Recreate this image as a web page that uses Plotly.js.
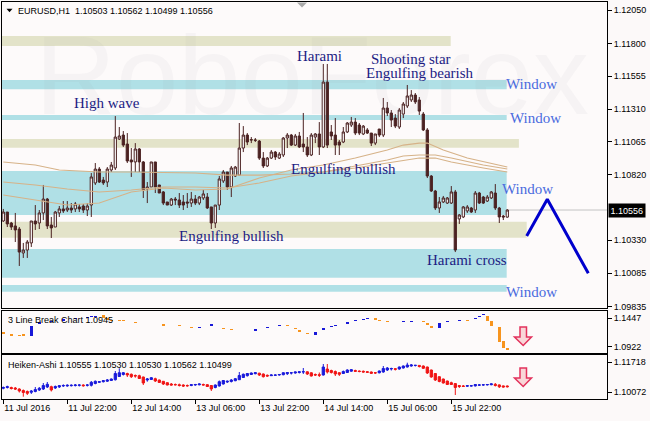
<!DOCTYPE html>
<html><head><meta charset="utf-8">
<script src="https://cdn.plot.ly/plotly-3.0.1.min.js"></script>
<style>html,body{margin:0;padding:0;background:#fcf9f9;}#chart{width:650px;height:421px;}</style>
</head><body><div id="chart"></div>
<script>
// ---------- DATA ----------
const candleOpen = [1.10474,1.10541,1.10459,1.10437,1.10414,1.10235,1.10257,1.10310,1.10474,1.10459,
1.10534,1.10638,1.10444,1.10429,1.10534,1.10564,1.10556,1.10571,1.10564,1.10579,
1.10586,1.10556,1.10593,1.10758,1.10862,1.10780,1.10765,1.10855,1.10870,1.11086,
1.11116,1.11049,1.10930,1.10915,1.11012,1.10915,1.10713,1.10728,1.10915,1.10743,
1.10691,1.10616,1.10593,1.10638,1.10631,1.10616,1.10616,1.10608,1.10638,1.10608,
1.10646,1.10653,1.10579,1.10459,1.10593,1.10773,1.10840,1.10728,1.10810,1.10817,
1.11019,1.11116,1.11079,1.11079,1.11071,1.10944,1.10885,1.10944,1.10989,1.10944,
1.10967,1.11094,1.11116,1.11041,1.11109,1.11049,1.11027,1.10967,1.11101,1.11124,
1.11027,1.11512,1.11139,1.11116,1.11064,1.11064,1.11139,1.11191,1.11213,1.11191,
1.11124,1.11154,1.11131,1.11056,1.11161,1.11116,1.11318,1.11281,1.11243,1.11176,
1.11273,1.11333,1.11378,1.11415,1.11378,1.11273,1.11154,1.10810,1.10698,1.10571,
1.10616,1.10608,1.10608,1.10691,1.10489,1.10504,1.10549,1.10571,1.10556,1.10683,
1.10653,1.10623,1.10646,1.10683,1.10571,1.10511,1.10503];
const candleHigh = [1.10564,1.10541,1.10467,1.10534,1.10429,1.10310,1.10332,1.10474,1.10593,1.10556,
1.10743,1.10646,1.10504,1.10549,1.10586,1.10623,1.10623,1.10608,1.10616,1.10601,
1.10601,1.10608,1.10832,1.10907,1.10877,1.10803,1.10877,1.10915,1.11258,1.11176,
1.11146,1.11131,1.11019,1.11056,1.11019,1.10922,1.10765,1.10915,1.10915,1.10743,
1.10698,1.10616,1.10646,1.10653,1.10683,1.10668,1.10683,1.10691,1.10668,1.10661,
1.10706,1.10683,1.10579,1.10593,1.10810,1.10855,1.10840,1.10885,1.10885,1.11206,
1.11183,1.11131,1.11101,1.11094,1.11079,1.10989,1.10952,1.11004,1.10997,1.10989,
1.11101,1.11131,1.11124,1.11124,1.11139,1.11281,1.11101,1.11131,1.11131,1.11213,
1.11647,1.11647,1.11191,1.11243,1.11079,1.11176,1.11213,1.11251,1.11243,1.11206,
1.11191,1.11168,1.11131,1.11124,1.11161,1.11393,1.11363,1.11303,1.11273,1.11318,
1.11363,1.11490,1.11452,1.11430,1.11400,1.11288,1.11168,1.10817,1.10706,1.10653,
1.10661,1.10653,1.10735,1.10706,1.10526,1.10586,1.10593,1.10579,1.10698,1.10691,
1.10661,1.10668,1.10698,1.10750,1.10579,1.10519,1.10562];
const candleLow = [1.10467,1.10429,1.10407,1.10317,1.10138,1.10198,1.10198,1.10280,1.10407,1.10414,
1.10481,1.10414,1.10347,1.10429,1.10504,1.10534,1.10541,1.10534,1.10541,1.10541,
1.10534,1.10511,1.10504,1.10743,1.10758,1.10743,1.10728,1.10840,1.10855,1.11079,
1.11027,1.10907,1.10803,1.10840,1.10840,1.10646,1.10608,1.10728,1.10683,1.10683,
1.10593,1.10593,1.10586,1.10593,1.10571,1.10556,1.10571,1.10579,1.10593,1.10593,
1.10631,1.10564,1.10414,1.10422,1.10556,1.10758,1.10706,1.10653,1.10803,1.10817,
1.10989,1.11041,1.11056,1.11064,1.10930,1.10870,1.10877,1.10937,1.10930,1.10937,
1.10952,1.11019,1.11034,1.11034,1.11019,1.10989,1.10952,1.10959,1.11056,1.10967,
1.11019,1.11019,1.11079,1.10967,1.10967,1.11056,1.11131,1.11176,1.11116,1.11116,
1.11116,1.11124,1.11034,1.11041,1.11101,1.11101,1.11258,1.11176,1.11168,1.11161,
1.11243,1.11318,1.11363,1.11348,1.11266,1.11146,1.10795,1.10691,1.10556,1.10534,
1.10608,1.10601,1.10601,1.10242,1.10452,1.10496,1.10534,1.10534,1.10534,1.10601,
1.10601,1.10616,1.10638,1.10556,1.10459,1.10481,1.10499];
const candleClose = [1.10541,1.10452,1.10429,1.10407,1.10242,1.10257,1.10317,1.10474,1.10452,1.10534,
1.10638,1.10437,1.10422,1.10541,1.10564,1.10549,1.10571,1.10556,1.10601,1.10564,
1.10556,1.10586,1.10803,1.10862,1.10765,1.10758,1.10862,1.10892,1.11101,1.11109,
1.11041,1.10922,1.10915,1.11012,1.10915,1.10706,1.10728,1.10915,1.10728,1.10683,
1.10608,1.10593,1.10638,1.10631,1.10593,1.10593,1.10608,1.10638,1.10608,1.10653,
1.10676,1.10571,1.10459,1.10593,1.10788,1.10840,1.10728,1.10870,1.10877,1.11019,
1.11116,1.11064,1.11081,1.11077,1.10944,1.10885,1.10944,1.10989,1.10952,1.10974,
1.11094,1.11116,1.11041,1.11109,1.11027,1.11027,1.10967,1.11116,1.11124,1.11027,
1.11512,1.11041,1.11109,1.11041,1.11041,1.11139,1.11206,1.11213,1.11131,1.11131,
1.11183,1.11131,1.11056,1.11124,1.11116,1.11318,1.11281,1.11228,1.11183,1.11303,
1.11348,1.11408,1.11415,1.11363,1.11295,1.11154,1.10810,1.10698,1.10571,1.10616,
1.10646,1.10646,1.10691,1.10257,1.10519,1.10579,1.10579,1.10541,1.10683,1.10608,
1.10608,1.10653,1.10691,1.10571,1.10504,1.10504,1.10556];

// moving averages (read at selected bars)
const maFastIdx = [0,8,16,24,32,40,48,56,64,72,80,88,96,100,104,106,110,116,120,126];
const maFast = [1.10668,1.10631,1.10593,1.10608,1.10691,1.10720,1.10706,1.10713,1.10795,1.10855,1.10892,1.10944,1.11004,1.11041,1.11056,1.11056,1.11004,1.10944,1.10915,1.10877];
const maMidIdx = [0,8,16,24,32,40,48,56,64,72,80,88,96,100,104,108,112,120,126];
const maMid = [1.10765,1.10743,1.10713,1.10691,1.10706,1.10728,1.10728,1.10720,1.10758,1.10810,1.10840,1.10885,1.10930,1.10959,1.10967,1.10967,1.10944,1.10892,1.10862];
const maSlowIdx = [0,8,14,24,32,40,48,56,64,72,80,88,96,100,104,108,112,120,126];
const maSlow = [1.10915,1.10892,1.10855,1.10840,1.10840,1.10836,1.10832,1.10817,1.10817,1.10825,1.10840,1.10870,1.10907,1.10930,1.10944,1.10944,1.10915,1.10870,1.10840];

// forecast zigzag
const forecastIdx = [130.85, 136, 146.25];
const forecastPrice = [1.10362, 1.10636, 1.10083];

// support / resistance zones
const zoneLow  = [1.11781,1.11458,1.11228,1.11021,1.10519,1.10349,1.10050,1.09946];
const zoneHigh = [1.11856,1.11527,1.11266,1.11086,1.10847,1.10469,1.10265,1.09996];
const zoneEnd  = [111.85,125.85,125.85,128.9,125.85,130.85,125.85,125.85];
const zoneKind = ['beige','cyan','cyan','beige','cyan','beige','cyan','cyan'];

const lastPrice = 1.10556;
const mainTicks = [1.12050,1.11800,1.11555,1.11310,1.11065,1.10820,1.10330,1.10085,1.09835];
const tickIdx = [0,16,32,48,64,80,96,112];
const tickText = ['11 Jul 2016','11 Jul 22:00','12 Jul 14:00','13 Jul 06:00','13 Jul 22:00','14 Jul 14:00','15 Jul 06:00','15 Jul 22:00'];

// 3 Line Break panel
const lbIdx = [0,2,4,5,7,9,12,15,18,21,22,23,25,26,27,29,30,33,40,44,47,49,52,55,57,63,66,69,71,73,74,76,78,80,82,83,86,88,90,91,93,94,96,98,100,102,105,106,107,109,111,114,116,118,119,120,121,122,124,125,126];
const lbLow = [1.11623,1.11253,1.11198,1.11253,1.11253,1.13416,1.13786,1.14063,1.14341,1.14525,1.14710,1.14766,1.14470,1.14156,1.13971,1.13971,1.13971,1.13656,1.13102,1.12991,1.12732,1.12732,1.13102,1.12492,1.12251,1.12177,1.12621,1.12991,1.12991,1.12492,1.11881,1.11512,1.11383,1.12307,1.12806,1.13047,1.13361,1.13971,1.14156,1.14285,1.14211,1.13971,1.13841,1.13730,1.13786,1.13841,1.13730,1.13231,1.12732,1.12732,1.13730,1.13971,1.13971,1.14341,1.14710,1.15025,1.13971,1.13102,1.10143,1.09034,1.08609];
const lbHigh = [1.11881,1.11512,1.11383,1.11512,1.13102,1.13786,1.14063,1.14341,1.14525,1.14710,1.14895,1.14951,1.15080,1.14470,1.14248,1.14156,1.14156,1.13841,1.13361,1.13231,1.12917,1.12917,1.13416,1.12732,1.12492,1.12492,1.12917,1.13231,1.13231,1.12732,1.12307,1.11697,1.11992,1.12621,1.13047,1.13231,1.13730,1.14156,1.14341,1.14470,1.14470,1.14156,1.14026,1.13841,1.13971,1.14026,1.13971,1.13545,1.13102,1.13545,1.13971,1.14156,1.14211,1.14581,1.14951,1.15265,1.14895,1.13971,1.12917,1.10273,1.09034];
const lbDir = [-1,-1,-1,-1,1,1,1,1,1,1,1,1,-1,-1,-1,-1,-1,-1,-1,-1,-1,1,1,-1,-1,1,1,1,-1,-1,-1,-1,1,1,1,1,1,1,1,1,-1,-1,-1,-1,1,1,-1,-1,-1,1,1,1,-1,1,1,1,-1,-1,-1,-1,-1];
const lbTicks = [1.1447, 1.0922];

// Heiken-Ashi panel
const haOpen = [1.10291,1.10335,1.10335,1.10308,1.10253,1.10171,1.10116,1.10072,1.10116,1.10198,
1.10253,1.10363,1.10379,1.10308,1.10363,1.10418,1.10418,1.10434,1.10445,1.10456,
1.10472,1.10456,1.10456,1.10555,1.10621,1.10654,1.10681,1.10719,1.10763,1.10939,
1.11049,1.11103,1.11060,1.10994,1.10983,1.10911,1.10747,1.10774,1.10818,1.10747,
1.10676,1.10599,1.10527,1.10500,1.10489,1.10472,1.10445,1.10445,1.10472,1.10484,
1.10500,1.10489,1.10445,1.10335,1.10418,1.10527,1.10637,1.10665,1.10708,1.10763,
1.10884,1.10983,1.11049,1.11092,1.11120,1.11076,1.11005,1.10983,1.11005,1.11021,
1.11038,1.11092,1.11131,1.11131,1.11158,1.11186,1.11197,1.11142,1.11049,1.11038,
1.11021,1.11350,1.11268,1.11213,1.11147,1.11103,1.11158,1.11230,1.11268,1.11241,
1.11224,1.11202,1.11186,1.11147,1.11142,1.11186,1.11295,1.11350,1.11367,1.11350,
1.11405,1.11460,1.11515,1.11543,1.11548,1.11515,1.11460,1.11295,1.11103,1.10928,
1.10802,1.10692,1.10599,1.10549,1.10445,1.10418,1.10407,1.10418,1.10423,1.10461,
1.10472,1.10478,1.10489,1.10511,1.10478,1.10423,1.10418];
const haHigh = [1.10390,1.10434,1.10379,1.10363,1.10291,1.10226,1.10171,1.10198,1.10363,1.10363,
1.10582,1.10637,1.10434,1.10445,1.10472,1.10511,1.10511,1.10511,1.10527,1.10511,
1.10511,1.10527,1.10692,1.10719,1.10692,1.10747,1.10802,1.10829,1.11241,1.11389,
1.11186,1.11147,1.11103,1.11049,1.11038,1.10928,1.10857,1.10911,1.10873,1.10763,
1.10692,1.10610,1.10582,1.10555,1.10549,1.10511,1.10500,1.10527,1.10533,1.10555,
1.10549,1.10527,1.10472,1.10500,1.10719,1.10747,1.10719,1.10802,1.10857,1.11186,
1.11103,1.11131,1.11158,1.11169,1.11142,1.11103,1.11049,1.11060,1.11049,1.11076,
1.11169,1.11186,1.11169,1.11202,1.11213,1.11405,1.11224,1.11169,1.11103,1.11158,
1.11625,1.11625,1.11312,1.11268,1.11169,1.11268,1.11334,1.11350,1.11312,1.11268,
1.11268,1.11241,1.11213,1.11186,1.11268,1.11515,1.11460,1.11422,1.11405,1.11488,
1.11543,1.11696,1.11625,1.11570,1.11570,1.11543,1.11477,1.11312,1.11114,1.10939,
1.10818,1.10708,1.10654,1.10582,1.10472,1.10472,1.10472,1.10461,1.10527,1.10527,
1.10511,1.10527,1.10555,1.10582,1.10500,1.10445,1.10445];
const haLow = [1.10237,1.10280,1.10226,1.10198,1.10061,1.09831,1.09924,1.09979,1.10072,1.10143,
1.10198,1.10308,1.10116,1.10253,1.10308,1.10363,1.10379,1.10390,1.10390,1.10390,
1.10379,1.10390,1.10390,1.10511,1.10582,1.10610,1.10637,1.10692,1.10719,1.10911,
1.10994,1.10911,1.10857,1.10873,1.10802,1.10472,1.10654,1.10747,1.10637,1.10582,
1.10472,1.10456,1.10445,1.10445,1.10390,1.10363,1.10379,1.10407,1.10429,1.10456,
1.10445,1.10363,1.10143,1.10291,1.10390,1.10500,1.10582,1.10610,1.10681,1.10747,
1.10857,1.10939,1.11021,1.11060,1.10966,1.10884,1.10928,1.10966,1.10966,1.10983,
1.11005,1.11021,1.11049,1.11092,1.11103,1.11076,1.11021,1.10939,1.10966,1.10911,
1.10994,1.11103,1.11103,1.10966,1.10966,1.11076,1.11131,1.11202,1.11186,1.11169,
1.11158,1.11147,1.11076,1.11076,1.11114,1.11147,1.11241,1.11268,1.11268,1.11312,
1.11378,1.11433,1.11477,1.11488,1.11433,1.11350,1.11076,1.10873,1.10692,1.10621,
1.10555,1.10472,1.10472,1.09924,1.10308,1.10363,1.10374,1.10390,1.10390,1.10418,
1.10429,1.10445,1.10456,1.10390,1.10308,1.10335,1.10335];
const haClose = [1.10335,1.10379,1.10280,1.10253,1.10143,1.10061,1.10017,1.10143,1.10226,1.10291,
1.10445,1.10511,1.10198,1.10390,1.10434,1.10445,1.10456,1.10456,1.10472,1.10472,
1.10434,1.10472,1.10621,1.10676,1.10654,1.10708,1.10747,1.10802,1.11103,1.11147,
1.11147,1.11021,1.10928,1.10966,1.10829,1.10582,1.10802,1.10873,1.10692,1.10610,
1.10527,1.10472,1.10472,1.10484,1.10445,1.10418,1.10429,1.10489,1.10500,1.10527,
1.10472,1.10390,1.10253,1.10472,1.10654,1.10719,1.10676,1.10747,1.10818,1.10994,
1.11060,1.11103,1.11131,1.11147,1.11021,1.10928,1.10966,1.11021,1.11021,1.11049,
1.11147,1.11158,1.11142,1.11186,1.11197,1.11202,1.11076,1.10966,1.11021,1.11005,
1.11460,1.11186,1.11158,1.11076,1.11060,1.11213,1.11295,1.11312,1.11224,1.11213,
1.11186,1.11169,1.11114,1.11136,1.11241,1.11378,1.11405,1.11378,1.11334,1.11460,
1.11515,1.11570,1.11570,1.11554,1.11488,1.11389,1.11131,1.10911,1.10747,1.10665,
1.10582,1.10500,1.10500,1.10335,1.10390,1.10396,1.10434,1.10429,1.10500,1.10478,
1.10484,1.10500,1.10533,1.10445,1.10374,1.10363,1.10379];
const haTicks = [1.11718, 1.10072];

// ---------- STYLE / GEOMETRY ----------
const W = 650, H = 421, ML = 2, MR = 43, MT = 2, MB = 22;
const PW = W - ML - MR, PH = H - MT - MB;
const px = x => (x - ML) / PW;
const py = y => (H - MB - y) / PH;
const pathOf = pts => 'M ' + pts.map(p => px(p[0]).toFixed(5) + ',' + py(p[1]).toFixed(5)).join(' L ') + ' Z';

const barIdx = candleOpen.map((_, i) => i);
const xRange = [-0.325, 150.925];
const candleCol = '#4b2222';
const maCol = 'rgb(214,178,136)';
const lbBlue = '#1818d8', lbOrange = '#f7941e';
const haBlue = '#1a1adb', haRed = '#f01414';
const zoneCol = {cyan: '#b0e0e6', beige: '#e3e3c9'};
const darkLbl = '#1c1c84', winLbl = '#4a6bde';
const axisFont = {family: 'Liberation Sans, Arial, sans-serif', size: 9, color: '#000'};

const traces = [
  {type: 'candlestick', x: barIdx, open: candleOpen, high: candleHigh, low: candleLow, close: candleClose,
   xaxis: 'x', yaxis: 'y', whiskerwidth: 0, hoverinfo: 'skip', showlegend: false,
   increasing: {line: {color: candleCol, width: 1}, fillcolor: '#ffffff'},
   decreasing: {line: {color: candleCol, width: 1}, fillcolor: candleCol}},
  {type: 'scatter', mode: 'lines', x: maSlowIdx, y: maSlow, xaxis: 'x', yaxis: 'y', line: {color: maCol, width: 1.1}, hoverinfo: 'skip', showlegend: false},
  {type: 'scatter', mode: 'lines', x: maMidIdx, y: maMid, xaxis: 'x', yaxis: 'y', line: {color: maCol, width: 1.1}, hoverinfo: 'skip', showlegend: false},
  {type: 'scatter', mode: 'lines', x: maFastIdx, y: maFast, xaxis: 'x', yaxis: 'y', line: {color: maCol, width: 1.1}, hoverinfo: 'skip', showlegend: false},
  {type: 'scatter', mode: 'lines', x: forecastIdx, y: forecastPrice, xaxis: 'x', yaxis: 'y', line: {color: '#0000cd', width: 3}, hoverinfo: 'skip', showlegend: false},
  {type: 'bar', x: lbIdx, base: lbLow, y: lbHigh.map((h, k) => h - lbLow[k]), width: 0.9,
   marker: {color: lbDir.map(d => d > 0 ? lbBlue : lbOrange), line: {width: 0}},
   xaxis: 'x2', yaxis: 'y2', hoverinfo: 'skip', showlegend: false},
  {type: 'candlestick', x: barIdx, open: haOpen, high: haHigh, low: haLow, close: haClose,
   xaxis: 'x3', yaxis: 'y3', whiskerwidth: 0, hoverinfo: 'skip', showlegend: false,
   increasing: {line: {color: haBlue, width: 1}, fillcolor: haBlue},
   decreasing: {line: {color: haRed, width: 1}, fillcolor: haRed}}
];

const shapes = [];
zoneLow.forEach((lo, k) => shapes.push({type: 'rect', xref: 'x', yref: 'y', x0: xRange[0], x1: zoneEnd[k], y0: lo, y1: zoneHigh[k],
  fillcolor: zoneCol[zoneKind[k]], line: {width: 0}, layer: 'below'}));
shapes.push({type: 'line', xref: 'paper', yref: 'y', x0: 0, x1: 1, y0: lastPrice, y1: lastPrice, line: {color: '#c4c4c4', width: 1}, layer: 'below'});
// pink down arrows
const arrowStyle = {type: 'path', xref: 'paper', yref: 'paper', fillcolor: '#f9d6d8', line: {color: '#e2325c', width: 1.5}};
shapes.push(Object.assign({path: pathOf([[520,327],[526.5,327],[526.5,337],[531.5,337],[523.2,345.5],[514.5,337],[520,337]])}, arrowStyle));
shapes.push(Object.assign({path: pathOf([[520,368],[526.5,368],[526.5,378],[531.5,378],[523.2,386.5],[514.5,378],[520,378]])}, arrowStyle));
// small markers at top
shapes.push({type: 'path', xref: 'paper', yref: 'paper', path: pathOf([[6.5,8.7],[12.5,8.7],[9.5,12.3]]), fillcolor: '#000', line: {width: 0}});
shapes.push({type: 'path', xref: 'paper', yref: 'paper', path: pathOf([[297,2.5],[307,2.5],[302,7.5]]), fillcolor: '#a9a9a9', line: {width: 0}});

const serif = 'Liberation Serif, Times New Roman, serif';
const lbl = (text, x, y, color) => ({text, xref: 'paper', yref: 'paper', x: px(x), y: py(y), xanchor: 'center', yanchor: 'middle',
  showarrow: false, borderpad: 0, font: {family: serif, size: 15, color}});
const small = (text, x, y) => ({text, xref: 'paper', yref: 'paper', x: px(x), y: py(y), xanchor: 'left', yanchor: 'middle',
  showarrow: false, font: axisFont, borderpad: 0});

const annotations = [
  {text: 'RoboForex', xref: 'paper', yref: 'paper', x: px(312), y: py(75), xanchor: 'center', yanchor: 'middle', showarrow: false,
   font: {family: 'Liberation Sans, Arial, sans-serif', size: 112, color: 'rgba(150,150,170,0.07)'}},
  lbl('High wave', 106.5, 103, darkLbl),
  lbl('Harami', 319, 56.5, darkLbl),
  lbl('Shooting star', 411, 59.5, darkLbl),
  lbl('Engulfing bearish', 419.7, 72.5, darkLbl),
  lbl('Window', 531.3, 84, winLbl),
  lbl('Window', 535.5, 117.5, winLbl),
  lbl('Engulfing bullish', 343.3, 169, darkLbl),
  lbl('Engulfing bullish', 231.5, 235.5, darkLbl),
  lbl('Window', 527, 188.7, winLbl),
  lbl('Harami cross', 466.7, 260, darkLbl),
  lbl('Window', 531.3, 291.5, winLbl),
  small('EURUSD,H1\u00a0\u00a01.10503 1.10562 1.10499 1.10556', 17, 10.5),
  small('3 Line Break Chart 1.0945', 6.5, 320),
  small('Heiken-Ashi 1.10555 1.10530 1.10530 1.10562 1.10499', 6.5, 365),
  {text: lastPrice.toFixed(5), xref: 'paper', yref: 'y', x: 1, y: lastPrice, xanchor: 'left', yanchor: 'middle', xshift: 0.5,
   showarrow: false, bgcolor: '#000', borderpad: 1.5, font: {family: 'Liberation Sans, Arial, sans-serif', size: 9, color: '#fff'}}
];

const frameAxis = {showline: true, mirror: true, linecolor: '#000', linewidth: 1, showgrid: false, zeroline: false, fixedrange: true};
const layout = {
  width: W, height: H, margin: {l: ML, r: MR, t: MT, b: MB}, autosize: false,
  paper_bgcolor: '#fcf9f9', plot_bgcolor: '#fdfafa', font: axisFont, showlegend: false,
  hovermode: false, bargap: 0, boxgap: 0.2,
  xaxis: Object.assign({}, frameAxis, {anchor: 'y', range: xRange, showticklabels: false, ticks: '', rangeslider: {visible: false}}),
  xaxis2: Object.assign({}, frameAxis, {anchor: 'y2', matches: 'x', range: xRange, showticklabels: false, ticks: '', rangeslider: {visible: false}}),
  xaxis3: Object.assign({}, frameAxis, {anchor: 'y3', matches: 'x', range: xRange, tickmode: 'array', tickvals: tickIdx, ticktext: tickText,
    ticks: 'outside', ticklen: 4, tickcolor: '#000', ticklabelposition: 'outside right', tickfont: axisFont, rangeslider: {visible: false}}),
  yaxis: Object.assign({}, frameAxis, {anchor: 'x', side: 'right', domain: [py(308), 1], range: [1.09824, 1.12110],
    tickmode: 'array', tickvals: mainTicks, ticktext: mainTicks.map(v => v.toFixed(5)), ticks: 'outside', ticklen: 4, tickcolor: '#000', tickfont: axisFont}),
  yaxis2: Object.assign({}, frameAxis, {anchor: 'x2', side: 'right', domain: [py(353), py(311)], range: [1.08054, 1.15820],
    tickmode: 'array', tickvals: lbTicks, ticktext: lbTicks.map(v => v.toFixed(4)), ticks: 'outside', ticklen: 4, tickcolor: '#000', tickfont: axisFont}),
  yaxis3: Object.assign({}, frameAxis, {anchor: 'x3', side: 'right', domain: [0, py(355)], range: [1.09704, 1.12119],
    tickmode: 'array', tickvals: haTicks, ticktext: haTicks.map(v => v.toFixed(5)), ticks: 'outside', ticklen: 4, tickcolor: '#000', tickfont: axisFont}),
  shapes, annotations
};

Plotly.newPlot('chart', traces, layout, {staticPlot: true, displayModeBar: false});
</script>
</body></html>
